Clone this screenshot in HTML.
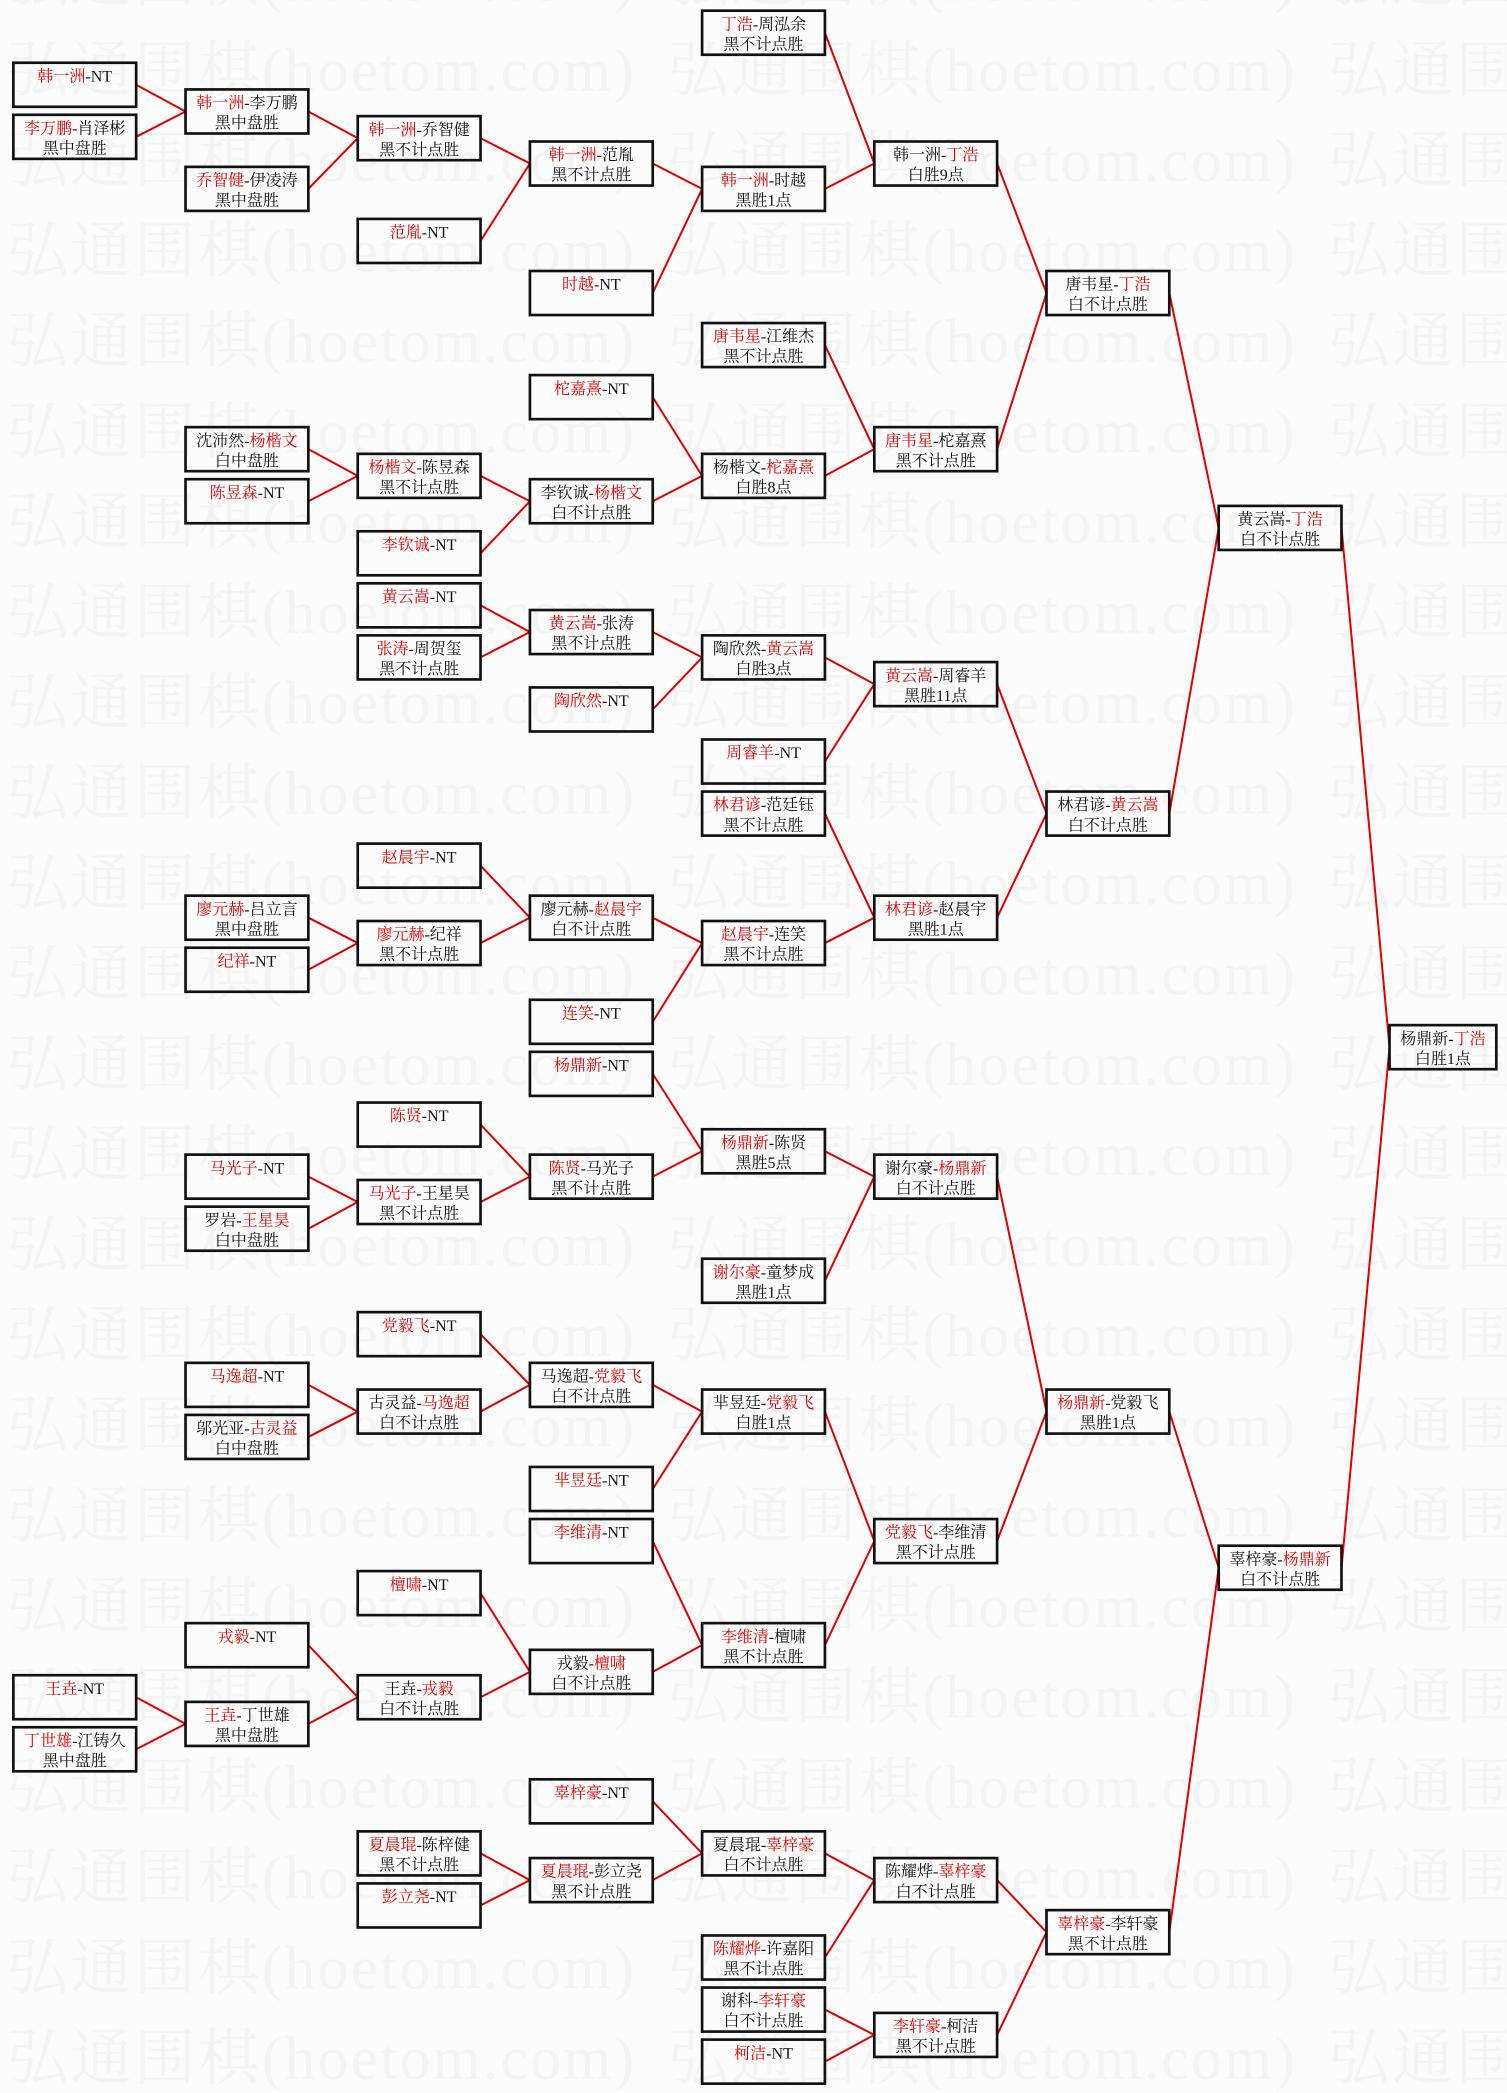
<!DOCTYPE html>
<html><head><meta charset="utf-8"><style>
html,body{margin:0;padding:0;background:#fbfbfb;}
svg{display:block;}
.b rect{fill:none;stroke:#111;stroke-width:2;}
text{font-family:"Liberation Serif","Noto Serif CJK SC",serif;font-size:12px;fill:#111;text-anchor:middle;}
.r{fill:#e00000;}
.wm{font-family:"Liberation Serif","Noto Serif CJK SC",serif;font-size:46px;fill:#f3f3f3;text-anchor:start;}
</style></head><body>
<svg width="1507" height="2093" viewBox="0 0 1129 1568" xmlns="http://www.w3.org/2000/svg">
<defs>
<pattern id="wmp" x="5" y="16" width="495" height="67.7" patternUnits="userSpaceOnUse">
<text class="wm" x="0" y="52" textLength="470">弘通围棋(hoetom.com)</text>
</pattern>
</defs>
<rect x="0" y="0" width="1129" height="1568" fill="#fbfbfb"/>
<rect x="0" y="0" width="1129" height="1568" fill="url(#wmp)"/>

<path fill="none" stroke="#e00000" stroke-width="1.5" d="
M102 63.5L139 83.5 M102 102.5L139 83.5 M102 1271.5L139 1291.5 M102 1310.5L139 1291.5
M231 83.5L268 103.5 M231 141.5L268 103.5 M231 336.5L268 356.5 M231 375.5L268 356.5 M231 687.5L268 706.5 M231 726.5L268 706.5 M231 881.5L268 900.5 M231 920.5L268 900.5 M231 1037.5L268 1057.5 M231 1076.5L268 1057.5 M231 1232.5L268 1271.5 M231 1291.5L268 1271.5
M360 103.5L397 122.5 M360 180.5L397 122.5 M360 356.5L397 375.5 M360 414.5L397 375.5 M360 453.5L397 473.5 M360 492.5L397 473.5 M360 648.5L397 687.5 M360 706.5L397 687.5 M360 842.5L397 881.5 M360 900.5L397 881.5 M360 999.5L397 1037.5 M360 1057.5L397 1037.5 M360 1193.5L397 1252.5 M360 1271.5L397 1252.5 M360 1388.5L397 1408.5 M360 1427.5L397 1408.5
M489 122.5L526 141.5 M489 219.5L526 141.5 M489 297.5L526 356.5 M489 375.5L526 356.5 M489 473.5L526 492.5 M489 531.5L526 492.5 M489 687.5L526 706.5 M489 765.5L526 706.5 M489 804.5L526 862.5 M489 881.5L526 862.5 M489 1037.5L526 1057.5 M489 1115.5L526 1057.5 M489 1154.5L526 1232.5 M489 1252.5L526 1232.5 M489 1349.5L526 1388.5 M489 1408.5L526 1388.5
M618 24.5L655 122.5 M618 141.5L655 122.5 M618 258.5L655 336.5 M618 356.5L655 336.5 M618 492.5L655 512.5 M618 570.5L655 512.5 M618 609.5L655 687.5 M618 706.5L655 687.5 M618 862.5L655 881.5 M618 959.5L655 881.5 M618 1057.5L655 1154.5 M618 1232.5L655 1154.5 M618 1388.5L655 1408.5 M618 1466.5L655 1408.5 M618 1505.5L655 1524.5 M618 1544.5L655 1524.5
M747 122.5L784 219.5 M747 336.5L784 219.5 M747 512.5L784 609.5 M747 687.5L784 609.5 M747 881.5L784 1057.5 M747 1154.5L784 1057.5 M747 1408.5L784 1447.5 M747 1524.5L784 1447.5
M876 219.5L913 395.5 M876 609.5L913 395.5 M876 1057.5L913 1174.5 M876 1447.5L913 1174.5
M1005 395.5L1041 784.5 M1005 1174.5L1041 784.5"/>

<!-- c0 -->
<g class="b"><rect x="10" y="47" width="92" height="33"/><text x="56" y="61"><tspan class="r">韩一洲</tspan>-NT</text></g>
<g class="b"><rect x="10" y="86" width="92" height="33"/><text x="56" y="100"><tspan class="r">李万鹏</tspan>-肖泽彬</text><text x="56" y="115">黑中盘胜</text></g>
<g class="b"><rect x="10" y="1255" width="92" height="33"/><text x="56" y="1269"><tspan class="r">王垚</tspan>-NT</text></g>
<g class="b"><rect x="10" y="1294" width="92" height="33"/><text x="56" y="1308"><tspan class="r">丁世雄</tspan>-江铸久</text><text x="56" y="1323">黑中盘胜</text></g>

<!-- c1 -->
<g class="b"><rect x="139" y="67" width="92" height="33"/><text x="185" y="81"><tspan class="r">韩一洲</tspan>-李万鹏</text><text x="185" y="96">黑中盘胜</text></g>
<g class="b"><rect x="139" y="125" width="92" height="33"/><text x="185" y="139"><tspan class="r">乔智健</tspan>-伊凌涛</text><text x="185" y="154">黑中盘胜</text></g>
<g class="b"><rect x="139" y="320" width="92" height="33"/><text x="185" y="334">沈沛然-<tspan class="r">杨楷文</tspan></text><text x="185" y="349">白中盘胜</text></g>
<g class="b"><rect x="139" y="359" width="92" height="33"/><text x="185" y="373"><tspan class="r">陈昱森</tspan>-NT</text></g>
<g class="b"><rect x="139" y="671" width="92" height="33"/><text x="185" y="685"><tspan class="r">廖元赫</tspan>-吕立言</text><text x="185" y="700">黑中盘胜</text></g>
<g class="b"><rect x="139" y="710" width="92" height="33"/><text x="185" y="724"><tspan class="r">纪祥</tspan>-NT</text></g>
<g class="b"><rect x="139" y="865" width="92" height="33"/><text x="185" y="879"><tspan class="r">马光子</tspan>-NT</text></g>
<g class="b"><rect x="139" y="904" width="92" height="33"/><text x="185" y="918">罗岩-<tspan class="r">王星昊</tspan></text><text x="185" y="933">白中盘胜</text></g>
<g class="b"><rect x="139" y="1021" width="92" height="33"/><text x="185" y="1035"><tspan class="r">马逸超</tspan>-NT</text></g>
<g class="b"><rect x="139" y="1060" width="92" height="33"/><text x="185" y="1074">邬光亚-<tspan class="r">古灵益</tspan></text><text x="185" y="1089">白中盘胜</text></g>
<g class="b"><rect x="139" y="1216" width="92" height="33"/><text x="185" y="1230"><tspan class="r">戎毅</tspan>-NT</text></g>
<g class="b"><rect x="139" y="1275" width="92" height="33"/><text x="185" y="1289"><tspan class="r">王垚</tspan>-丁世雄</text><text x="185" y="1304">黑中盘胜</text></g>

<!-- c2 -->
<g class="b"><rect x="268" y="87" width="92" height="33"/><text x="314" y="101"><tspan class="r">韩一洲</tspan>-乔智健</text><text x="314" y="116">黑不计点胜</text></g>
<g class="b"><rect x="268" y="164" width="92" height="33"/><text x="314" y="178"><tspan class="r">范胤</tspan>-NT</text></g>
<g class="b"><rect x="268" y="340" width="92" height="33"/><text x="314" y="354"><tspan class="r">杨楷文</tspan>-陈昱森</text><text x="314" y="369">黑不计点胜</text></g>
<g class="b"><rect x="268" y="398" width="92" height="33"/><text x="314" y="412"><tspan class="r">李钦诚</tspan>-NT</text></g>
<g class="b"><rect x="268" y="437" width="92" height="33"/><text x="314" y="451"><tspan class="r">黄云嵩</tspan>-NT</text></g>
<g class="b"><rect x="268" y="476" width="92" height="33"/><text x="314" y="490"><tspan class="r">张涛</tspan>-周贺玺</text><text x="314" y="505">黑不计点胜</text></g>
<g class="b"><rect x="268" y="632" width="92" height="33"/><text x="314" y="646"><tspan class="r">赵晨宇</tspan>-NT</text></g>
<g class="b"><rect x="268" y="690" width="92" height="33"/><text x="314" y="704"><tspan class="r">廖元赫</tspan>-纪祥</text><text x="314" y="719">黑不计点胜</text></g>
<g class="b"><rect x="268" y="826" width="92" height="33"/><text x="314" y="840"><tspan class="r">陈贤</tspan>-NT</text></g>
<g class="b"><rect x="268" y="884" width="92" height="33"/><text x="314" y="898"><tspan class="r">马光子</tspan>-王星昊</text><text x="314" y="913">黑不计点胜</text></g>
<g class="b"><rect x="268" y="983" width="92" height="33"/><text x="314" y="997"><tspan class="r">党毅飞</tspan>-NT</text></g>
<g class="b"><rect x="268" y="1041" width="92" height="33"/><text x="314" y="1055">古灵益-<tspan class="r">马逸超</tspan></text><text x="314" y="1070">白不计点胜</text></g>
<g class="b"><rect x="268" y="1177" width="92" height="33"/><text x="314" y="1191"><tspan class="r">檀啸</tspan>-NT</text></g>
<g class="b"><rect x="268" y="1255" width="92" height="33"/><text x="314" y="1269">王垚-<tspan class="r">戎毅</tspan></text><text x="314" y="1284">白不计点胜</text></g>
<g class="b"><rect x="268" y="1372" width="92" height="33"/><text x="314" y="1386"><tspan class="r">夏晨琨</tspan>-陈梓健</text><text x="314" y="1401">黑不计点胜</text></g>
<g class="b"><rect x="268" y="1411" width="92" height="33"/><text x="314" y="1425"><tspan class="r">彭立尧</tspan>-NT</text></g>

<!-- c3 -->
<g class="b"><rect x="397" y="106" width="92" height="33"/><text x="443" y="120"><tspan class="r">韩一洲</tspan>-范胤</text><text x="443" y="135">黑不计点胜</text></g>
<g class="b"><rect x="397" y="203" width="92" height="33"/><text x="443" y="217"><tspan class="r">时越</tspan>-NT</text></g>
<g class="b"><rect x="397" y="281" width="92" height="33"/><text x="443" y="295"><tspan class="r">柁嘉熹</tspan>-NT</text></g>
<g class="b"><rect x="397" y="359" width="92" height="33"/><text x="443" y="373">李钦诚-<tspan class="r">杨楷文</tspan></text><text x="443" y="388">白不计点胜</text></g>
<g class="b"><rect x="397" y="457" width="92" height="33"/><text x="443" y="471"><tspan class="r">黄云嵩</tspan>-张涛</text><text x="443" y="486">黑不计点胜</text></g>
<g class="b"><rect x="397" y="515" width="92" height="33"/><text x="443" y="529"><tspan class="r">陶欣然</tspan>-NT</text></g>
<g class="b"><rect x="397" y="671" width="92" height="33"/><text x="443" y="685">廖元赫-<tspan class="r">赵晨宇</tspan></text><text x="443" y="700">白不计点胜</text></g>
<g class="b"><rect x="397" y="749" width="92" height="33"/><text x="443" y="763"><tspan class="r">连笑</tspan>-NT</text></g>
<g class="b"><rect x="397" y="788" width="92" height="33"/><text x="443" y="802"><tspan class="r">杨鼎新</tspan>-NT</text></g>
<g class="b"><rect x="397" y="865" width="92" height="33"/><text x="443" y="879"><tspan class="r">陈贤</tspan>-马光子</text><text x="443" y="894">黑不计点胜</text></g>
<g class="b"><rect x="397" y="1021" width="92" height="33"/><text x="443" y="1035">马逸超-<tspan class="r">党毅飞</tspan></text><text x="443" y="1050">白不计点胜</text></g>
<g class="b"><rect x="397" y="1099" width="92" height="33"/><text x="443" y="1113"><tspan class="r">芈昱廷</tspan>-NT</text></g>
<g class="b"><rect x="397" y="1138" width="92" height="33"/><text x="443" y="1152"><tspan class="r">李维清</tspan>-NT</text></g>
<g class="b"><rect x="397" y="1236" width="92" height="33"/><text x="443" y="1250">戎毅-<tspan class="r">檀啸</tspan></text><text x="443" y="1265">白不计点胜</text></g>
<g class="b"><rect x="397" y="1333" width="92" height="33"/><text x="443" y="1347"><tspan class="r">辜梓豪</tspan>-NT</text></g>
<g class="b"><rect x="397" y="1392" width="92" height="33"/><text x="443" y="1406"><tspan class="r">夏晨琨</tspan>-彭立尧</text><text x="443" y="1421">黑不计点胜</text></g>

<!-- c4 -->
<g class="b"><rect x="526" y="8" width="92" height="33"/><text x="572" y="22"><tspan class="r">丁浩</tspan>-周泓余</text><text x="572" y="37">黑不计点胜</text></g>
<g class="b"><rect x="526" y="125" width="92" height="33"/><text x="572" y="139"><tspan class="r">韩一洲</tspan>-时越</text><text x="572" y="154">黑胜1点</text></g>
<g class="b"><rect x="526" y="242" width="92" height="33"/><text x="572" y="256"><tspan class="r">唐韦星</tspan>-江维杰</text><text x="572" y="271">黑不计点胜</text></g>
<g class="b"><rect x="526" y="340" width="92" height="33"/><text x="572" y="354">杨楷文-<tspan class="r">柁嘉熹</tspan></text><text x="572" y="369">白胜8点</text></g>
<g class="b"><rect x="526" y="476" width="92" height="33"/><text x="572" y="490">陶欣然-<tspan class="r">黄云嵩</tspan></text><text x="572" y="505">白胜3点</text></g>
<g class="b"><rect x="526" y="554" width="92" height="33"/><text x="572" y="568"><tspan class="r">周睿羊</tspan>-NT</text></g>
<g class="b"><rect x="526" y="593" width="92" height="33"/><text x="572" y="607"><tspan class="r">林君谚</tspan>-范廷钰</text><text x="572" y="622">黑不计点胜</text></g>
<g class="b"><rect x="526" y="690" width="92" height="33"/><text x="572" y="704"><tspan class="r">赵晨宇</tspan>-连笑</text><text x="572" y="719">黑不计点胜</text></g>
<g class="b"><rect x="526" y="846" width="92" height="33"/><text x="572" y="860"><tspan class="r">杨鼎新</tspan>-陈贤</text><text x="572" y="875">黑胜5点</text></g>
<g class="b"><rect x="526" y="943" width="92" height="33"/><text x="572" y="957"><tspan class="r">谢尔豪</tspan>-童梦成</text><text x="572" y="972">黑胜1点</text></g>
<g class="b"><rect x="526" y="1041" width="92" height="33"/><text x="572" y="1055">芈昱廷-<tspan class="r">党毅飞</tspan></text><text x="572" y="1070">白胜1点</text></g>
<g class="b"><rect x="526" y="1216" width="92" height="33"/><text x="572" y="1230"><tspan class="r">李维清</tspan>-檀啸</text><text x="572" y="1245">黑不计点胜</text></g>
<g class="b"><rect x="526" y="1372" width="92" height="33"/><text x="572" y="1386">夏晨琨-<tspan class="r">辜梓豪</tspan></text><text x="572" y="1401">白不计点胜</text></g>
<g class="b"><rect x="526" y="1450" width="92" height="33"/><text x="572" y="1464"><tspan class="r">陈耀烨</tspan>-许嘉阳</text><text x="572" y="1479">黑不计点胜</text></g>
<g class="b"><rect x="526" y="1489" width="92" height="33"/><text x="572" y="1503">谢科-<tspan class="r">李轩豪</tspan></text><text x="572" y="1518">白不计点胜</text></g>
<g class="b"><rect x="526" y="1528" width="92" height="33"/><text x="572" y="1542"><tspan class="r">柯洁</tspan>-NT</text></g>

<!-- c5 -->
<g class="b"><rect x="655" y="106" width="92" height="33"/><text x="701" y="120">韩一洲-<tspan class="r">丁浩</tspan></text><text x="701" y="135">白胜9点</text></g>
<g class="b"><rect x="655" y="320" width="92" height="33"/><text x="701" y="334"><tspan class="r">唐韦星</tspan>-柁嘉熹</text><text x="701" y="349">黑不计点胜</text></g>
<g class="b"><rect x="655" y="496" width="92" height="33"/><text x="701" y="510"><tspan class="r">黄云嵩</tspan>-周睿羊</text><text x="701" y="525">黑胜11点</text></g>
<g class="b"><rect x="655" y="671" width="92" height="33"/><text x="701" y="685"><tspan class="r">林君谚</tspan>-赵晨宇</text><text x="701" y="700">黑胜1点</text></g>
<g class="b"><rect x="655" y="865" width="92" height="33"/><text x="701" y="879">谢尔豪-<tspan class="r">杨鼎新</tspan></text><text x="701" y="894">白不计点胜</text></g>
<g class="b"><rect x="655" y="1138" width="92" height="33"/><text x="701" y="1152"><tspan class="r">党毅飞</tspan>-李维清</text><text x="701" y="1167">黑不计点胜</text></g>
<g class="b"><rect x="655" y="1392" width="92" height="33"/><text x="701" y="1406">陈耀烨-<tspan class="r">辜梓豪</tspan></text><text x="701" y="1421">白不计点胜</text></g>
<g class="b"><rect x="655" y="1508" width="92" height="33"/><text x="701" y="1522"><tspan class="r">李轩豪</tspan>-柯洁</text><text x="701" y="1537">黑不计点胜</text></g>

<!-- c6 -->
<g class="b"><rect x="784" y="203" width="92" height="33"/><text x="830" y="217">唐韦星-<tspan class="r">丁浩</tspan></text><text x="830" y="232">白不计点胜</text></g>
<g class="b"><rect x="784" y="593" width="92" height="33"/><text x="830" y="607">林君谚-<tspan class="r">黄云嵩</tspan></text><text x="830" y="622">白不计点胜</text></g>
<g class="b"><rect x="784" y="1041" width="92" height="33"/><text x="830" y="1055"><tspan class="r">杨鼎新</tspan>-党毅飞</text><text x="830" y="1070">黑胜1点</text></g>
<g class="b"><rect x="784" y="1431" width="92" height="33"/><text x="830" y="1445"><tspan class="r">辜梓豪</tspan>-李轩豪</text><text x="830" y="1460">黑不计点胜</text></g>

<!-- c7 -->
<g class="b"><rect x="913" y="379" width="92" height="33"/><text x="959" y="393">黄云嵩-<tspan class="r">丁浩</tspan></text><text x="959" y="408">白不计点胜</text></g>
<g class="b"><rect x="913" y="1158" width="92" height="33"/><text x="959" y="1172">辜梓豪-<tspan class="r">杨鼎新</tspan></text><text x="959" y="1187">白不计点胜</text></g>

<!-- c8 -->
<g class="b"><rect x="1041" y="768" width="80" height="33"/><text x="1081" y="782">杨鼎新-<tspan class="r">丁浩</tspan></text><text x="1081" y="797">白胜1点</text></g>
</svg>
</body></html>
